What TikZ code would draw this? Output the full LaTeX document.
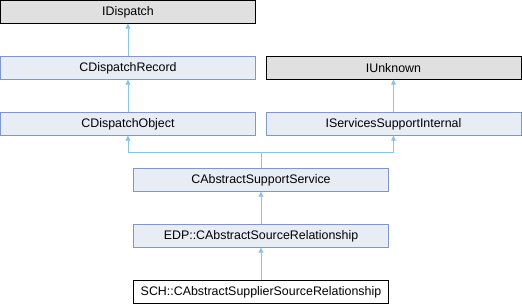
\documentclass[tikz,border=0pt]{standalone}
\usepackage{fontspec}
\setmainfont{Liberation Sans}
\usetikzlibrary{arrows.meta}
\definecolor{boxfill}{HTML}{E8ECF5}
\definecolor{boxline}{HTML}{7F98CC}
\definecolor{grayfill}{HTML}{E0E0E0}
\definecolor{edgecol}{HTML}{8CC4E6}
\begin{document}
\begin{tikzpicture}[x=1pt,y=-1pt,
  base/.style={line width=0.8pt,minimum width=255pt,minimum height=23pt,inner sep=0pt,font=\fontsize{12.4}{14}\selectfont},
  cls/.style={base,draw=boxline,fill=boxfill},
  ext/.style={base,draw=black,fill=grayfill},
  cur/.style={base,draw=black,fill=white},
  inh/.style={draw=edgecol,line width=0.8pt,-{Triangle[width=5pt,length=5pt,fill=edgecol]}}]
\useasboundingbox (0,0) rectangle (522,304);
\node[ext] (idisp) at (128,11.8) {IDispatch};
\node[cls] (crec) at (128,67.8) {CDispatchRecord};
\node[ext] (iunk) at (393.5,67.8) {IUnknown};
\node[cls] (cobj) at (128,123.8) {CDispatchObject};
\node[cls] (iss) at (393.5,123.8) {IServicesSupportInternal};
\node[cls] (cass) at (261,179.8) {CAbstractSupportService};
\node[cls] (edp) at (261,235.8) {EDP::CAbstractSourceRelationship};
\node[cur] (sch) at (261,291.8) {SCH::CAbstractSupplierSourceRelationship};
\coordinate (j) at (261,152.7);
\draw[inh] (crec.north) -- (idisp.south);
\draw[inh] (cobj.north) -- (crec.south);
\draw[inh] (iss.north) -- (iunk.south);
\draw[inh] (cass.north) -- (j) -| (cobj.south);
\draw[inh] (j) -| (iss.south);
\draw[inh] (edp.north) -- (cass.south);
\draw[inh] (sch.north) -- (edp.south);
\end{tikzpicture}
\end{document}
